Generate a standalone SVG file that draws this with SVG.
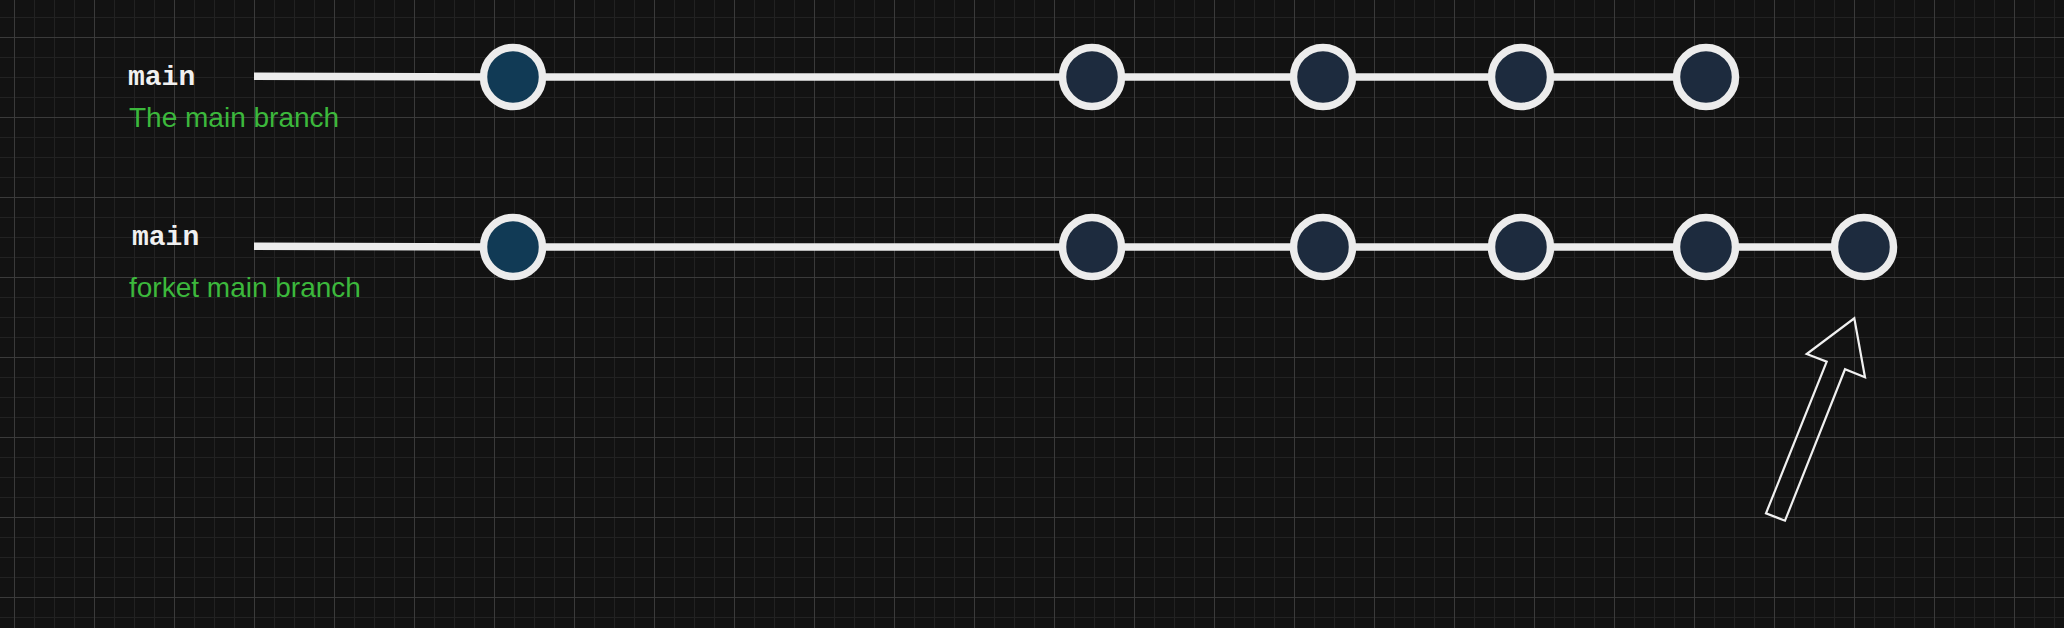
<svg xmlns="http://www.w3.org/2000/svg" width="2064" height="628" viewBox="0 0 2064 628">
<style>
.commit{stroke:#ececec;stroke-width:7.5}
.c1{fill:#113a55}
.c2{fill:#1d2b3e}
.branch{stroke:#ececec;stroke-width:7.5;fill:none;stroke-linecap:butt}
.lbl{font-family:"Liberation Mono","Courier New",monospace;font-weight:bold;font-size:28px;fill:#f0f0f0}
.desc{font-family:"Liberation Sans",Arial,sans-serif;font-size:28px;fill:#3cb83c}
.arrow{fill:none;stroke:#f0f0f0;stroke-width:2.2;stroke-linejoin:miter}
</style>
<defs>
<pattern id="grid" x="14" y="37" width="80" height="80" patternUnits="userSpaceOnUse">
<rect x="20" y="0" width="1" height="80" fill="#222222"/>
<rect x="40" y="0" width="1" height="80" fill="#222222"/>
<rect x="60" y="0" width="1" height="80" fill="#222222"/>
<rect x="0" y="20" width="80" height="1" fill="#222222"/>
<rect x="0" y="40" width="80" height="1" fill="#222222"/>
<rect x="0" y="60" width="80" height="1" fill="#222222"/>
<rect x="0" y="0" width="1" height="80" fill="#3a3a3a"/>
<rect x="0" y="0" width="80" height="1" fill="#3a3a3a"/>
</pattern>
</defs>
<rect x="0" y="0" width="2064" height="628" fill="#121212"/>
<rect x="0" y="0" width="2064" height="628" fill="url(#grid)"/>

<g id="connectors">
<path class="branch" d="M254 76.2 L513 77 L1706 77"/>
<path class="branch" d="M254 246.2 L513 247 L1864 247"/>
<polygon class="arrow" points="1854.3,318.3 1865,377.3 1845,369.3 1785,520.7 1766,513.3 1826.7,361.7 1806.7,354"/>
</g>

<g id="label-main-1"><text class="lbl" x="128" y="85">main</text></g>
<g id="desc-main-1"><text class="desc" x="129" y="127">The main branch</text></g>
<g id="label-main-2"><text class="lbl" x="132" y="245">main</text></g>
<g id="desc-main-2"><text class="desc" x="129" y="297">forket main branch</text></g>

<g id="r1c1"><circle class="commit c1" cx="513" cy="77" r="29.5"/></g>
<g id="r1c2"><circle class="commit c2" cx="1092" cy="77" r="29.5"/></g>
<g id="r1c3"><circle class="commit c2" cx="1323" cy="77" r="29.5"/></g>
<g id="r1c4"><circle class="commit c2" cx="1521" cy="77" r="29.5"/></g>
<g id="r1c5"><circle class="commit c2" cx="1706" cy="77" r="29.5"/></g>

<g id="r2c1"><circle class="commit c1" cx="513" cy="247" r="29.5"/></g>
<g id="r2c2"><circle class="commit c2" cx="1092" cy="247" r="29.5"/></g>
<g id="r2c3"><circle class="commit c2" cx="1323" cy="247" r="29.5"/></g>
<g id="r2c4"><circle class="commit c2" cx="1521" cy="247" r="29.5"/></g>
<g id="r2c5"><circle class="commit c2" cx="1706" cy="247" r="29.5"/></g>
<g id="r2c6"><circle class="commit c2" cx="1864" cy="247" r="29.5"/></g>
</svg>
